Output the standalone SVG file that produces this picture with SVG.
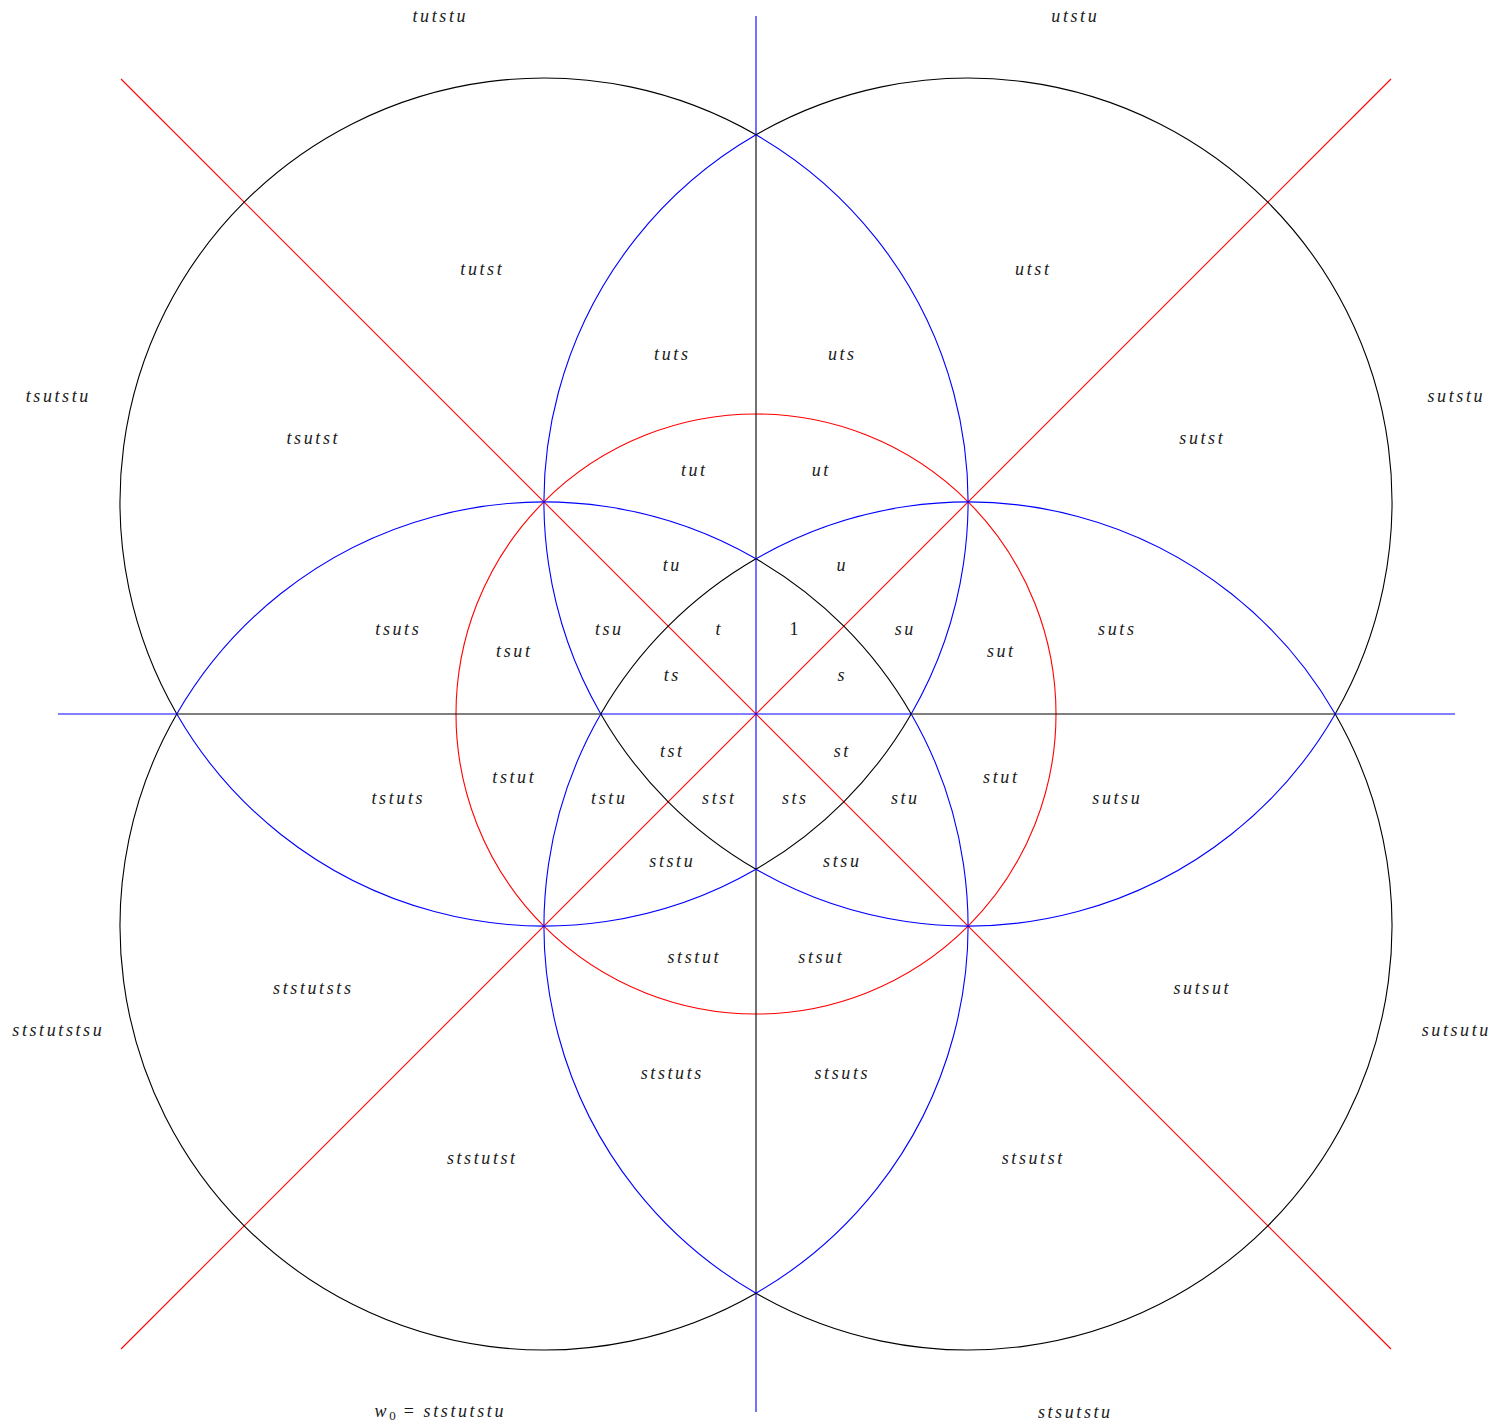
<svg xmlns="http://www.w3.org/2000/svg" width="1499" height="1424" viewBox="0 0 1499 1424">
<style>
.k{stroke:#000;fill:none;stroke-width:1.1}
.b{stroke:#00f;fill:none;stroke-width:1.1}
.r{stroke:#f00;fill:none;stroke-width:1.1}
text{font-family:"Liberation Serif","DejaVu Serif","Times New Roman",serif;font-style:italic;font-size:18px;letter-spacing:2.6px;text-anchor:middle;fill:#1a1a1a}
.n{font-style:normal}
</style>
<rect width="1499" height="1424" fill="#fff"/>
<g id="connectors">
<circle class="r" cx="756" cy="714" r="300"/>
<line class="r" x1="121" y1="79" x2="1391" y2="1349"/>
<line class="r" x1="1391" y1="79" x2="121" y2="1349"/>
<path class="b" d="M756,16V134.8M756,558.8V869.2M756,1293.2V1412"/>
<path class="k" d="M756,134.8V558.8M756,869.2V1293.2"/>
<path class="b" d="M58,714H176.8M600.8,714H911.2M1335.2,714H1455"/>
<path class="k" d="M176.8,714H600.8M911.2,714H1335.2"/>
<g id="circleUR">
<path class="k" d="M1335.2,714A424,424 0 0 0 756,134.8"/>
<path class="b" d="M756,134.8A424,424 0 0 0 600.8,714"/>
<path class="k" d="M600.8,714A424,424 0 0 0 756,869.2"/>
<path class="b" d="M756,869.2A424,424 0 0 0 1335.2,714"/>
</g>
<g id="circleUL">
<path class="k" d="M176.8,714A424,424 0 0 1 756,134.8"/>
<path class="b" d="M756,134.8A424,424 0 0 1 911.2,714"/>
<path class="k" d="M911.2,714A424,424 0 0 1 756,869.2"/>
<path class="b" d="M756,869.2A424,424 0 0 1 176.8,714"/>
</g>
<g id="circleLR">
<path class="k" d="M1335.2,714A424,424 0 0 1 756,1293.2"/>
<path class="b" d="M756,1293.2A424,424 0 0 1 600.8,714"/>
<path class="k" d="M600.8,714A424,424 0 0 1 756,558.8"/>
<path class="b" d="M756,558.8A424,424 0 0 1 1335.2,714"/>
</g>
<g id="circleLL">
<path class="k" d="M176.8,714A424,424 0 0 0 756,1293.2"/>
<path class="b" d="M756,1293.2A424,424 0 0 0 911.2,714"/>
<path class="k" d="M911.2,714A424,424 0 0 0 756,558.8"/>
<path class="b" d="M756,558.8A424,424 0 0 0 176.8,714"/>
</g>
</g>
<g id="labels">
<text x="440.3" y="22">tutstu</text>
<text x="1075.3" y="22">utstu</text>
<text x="482.3" y="275">tutst</text>
<text x="1033.3" y="275">utst</text>
<text x="672.3" y="360">tuts</text>
<text x="842.3" y="360">uts</text>
<text x="58.3" y="402">tsutstu</text>
<text x="1456.3" y="402">sutstu</text>
<text x="313.3" y="444">tsutst</text>
<text x="1202.3" y="444">sutst</text>
<text x="694.3" y="476">tut</text>
<text x="821.3" y="476">ut</text>
<text x="672.3" y="571">tu</text>
<text x="842.3" y="571">u</text>
<text x="398.3" y="635">tsuts</text>
<text x="609.3" y="635">tsu</text>
<text x="719.3" y="635">t</text>
<text x="795.3" y="635" class="n">1</text>
<text x="905.3" y="635">su</text>
<text x="1117.3" y="635">suts</text>
<text x="514.3" y="657">tsut</text>
<text x="1001.3" y="657">sut</text>
<text x="672.3" y="681">ts</text>
<text x="842.3" y="681">s</text>
<text x="672.3" y="757">tst</text>
<text x="842.3" y="757">st</text>
<text x="514.3" y="783">tstut</text>
<text x="1001.3" y="783">stut</text>
<text x="398.3" y="804">tstuts</text>
<text x="609.3" y="804">tstu</text>
<text x="719.3" y="804">stst</text>
<text x="795.3" y="804">sts</text>
<text x="905.3" y="804">stu</text>
<text x="1117.3" y="804">sutsu</text>
<text x="672.3" y="867">ststu</text>
<text x="842.3" y="867">stsu</text>
<text x="694.3" y="963">ststut</text>
<text x="821.3" y="963">stsut</text>
<text x="313.3" y="994">ststutsts</text>
<text x="1202.3" y="994">sutsut</text>
<text x="58.3" y="1036">ststutstsu</text>
<text x="1456.3" y="1036">sutsutu</text>
<text x="672.3" y="1079">ststuts</text>
<text x="842.3" y="1079">stsuts</text>
<text x="482.3" y="1164">ststutst</text>
<text x="1033.3" y="1164">stsutst</text>
<text x="440.3" y="1417">w<tspan class="n" font-size="13" dy="3" letter-spacing="1">0</tspan><tspan class="n" dy="-3"> = </tspan>ststutstu</text>
<text x="1075.3" y="1418">stsutstu</text>
</g>
</svg>
